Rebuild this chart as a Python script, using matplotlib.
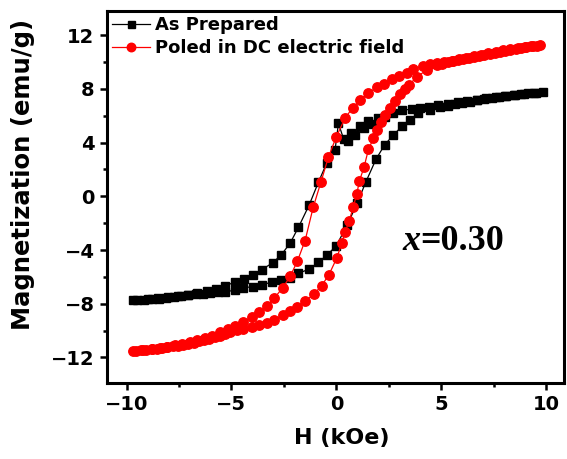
import matplotlib
matplotlib.use("Agg")
import matplotlib.pyplot as plt
from matplotlib.ticker import MultipleLocator

# ---- data ----
# As Prepared: descending branch (+H -> -H) then ascending (-H -> +H)
bk_desc_H = [9.85, 9.4, 8.95, 8.5, 8.05, 7.6, 7.15, 6.7, 6.25, 5.8, 5.3, 4.85, 4.4, 3.99, 3.6, 3.12,
             2.72, 2.32, 2.0, 1.75, 1.53, 1.32, 1.13, 0.89, 0.7, 0.55, 0.35, 0.1, -0.06, -0.46, -0.86,
             -1.29, -1.81, -2.2, -2.62, -3.04, -3.56, -3.99, -4.4, -4.83, -5.31, -5.74, -6.18, -6.63,
             -7.06, -7.53, -8.01, -8.49, -8.97, -9.68]
bk_desc_M = [7.79, 7.7, 7.64, 7.55, 7.47, 7.38, 7.3, 7.2, 7.1, 7.0, 6.87, 6.77, 6.68, 6.6, 6.5, 6.4,
             6.18, 5.93, 5.85, 5.35, 5.6, 5.06, 5.25, 4.6, 4.75, 4.1, 4.25, 5.44, 3.46, 2.47, 1.03,
             -0.63, -2.32, -3.48, -4.35, -4.96, -5.46, -5.87, -6.17, -6.4, -6.65, -6.9, -7.07, -7.19,
             -7.32, -7.44, -7.52, -7.58, -7.64, -7.69]
bk_asc_H = [-9.5, -9.15, -8.8, -8.45, -8.1, -7.75, -7.4, -7.05, -6.7, -6.35, -6.0, -5.65, -5.31,
            -4.83, -4.43, -3.99, -3.56, -3.06, -2.65, -2.2, -1.81, -1.29, -0.86, -0.43, 0.0, 0.52,
            1.0, 1.4, 1.89, 2.3, 2.72, 3.12, 3.51, 3.91, 4.47, 4.95, 5.3, 5.65, 6.0, 6.35, 6.7, 7.05,
            7.4, 7.75, 8.1, 8.45, 8.8, 9.15, 9.5]
bk_asc_M = [-7.73, -7.69, -7.65, -7.61, -7.56, -7.5, -7.44, -7.37, -7.3, -7.24, -7.18, -7.13, -7.1,
            -7.0, -6.82, -6.72, -6.57, -6.4, -6.23, -6.05, -5.74, -5.41, -4.92, -4.35, -3.68, -2.12,
            -0.5, 1.05, 2.76, 3.83, 4.57, 5.2, 5.7, 6.18, 6.43, 6.63, 6.75, 6.85, 6.95, 7.05, 7.15,
            7.23, 7.32, 7.4, 7.48, 7.55, 7.61, 7.67, 7.72]

# Poled in DC electric field
rd_desc_H = [9.7, 9.35, 9.0, 8.65, 8.3, 7.95, 7.6, 7.25, 6.9, 6.55, 6.2, 5.85, 5.5, 5.15, 4.8, 4.45,
             4.15, 3.67, 3.36, 3.0, 2.64, 2.27, 1.93, 1.53, 1.13, 0.78, 0.41, -0.01, -0.38, -0.74,
             -1.1, -1.49, -1.86, -2.2, -2.56, -2.97, -3.32, -3.67, -4.03, -4.47, -4.83, -5.15, -5.55,
             -5.94, -6.26, -6.63, -6.98, -7.37, -7.69, -8.09, -8.41, -8.8, -9.2, -9.68]
rd_desc_M = [11.27, 11.22, 11.15, 11.06, 10.96, 10.87, 10.77, 10.66, 10.55, 10.44, 10.32, 10.19,
             10.07, 9.97, 9.9, 9.83, 9.72, 9.45, 9.2, 8.95, 8.7, 8.4, 8.11, 7.71, 7.17, 6.6, 5.81,
             4.4, 2.91, 1.03, -0.8, -3.3, -4.84, -5.96, -6.82, -7.6, -8.15, -8.63, -8.98, -9.38,
             -9.62, -9.87, -10.1, -10.38, -10.53, -10.7, -10.86, -11.02, -11.1, -11.2, -11.28,
             -11.35, -11.41, -11.48]
rd_asc_H = [-9.55, -9.3, -9.05, -8.8, -8.55, -8.3, -8.05, -7.8, -7.55, -7.3, -7.05, -6.8, -6.55,
            -6.3, -6.05, -5.8, -5.55, -5.3, -5.05, -4.75, -4.43, -4.03, -3.67, -3.32, -2.97, -2.56,
            -2.2, -1.86, -1.49, -1.06, -0.7, -0.35, 0.02, 0.26, 0.41, 0.62, 0.81, 0.97, 1.1, 1.32,
            1.53, 1.77, 1.93, 2.12, 2.32, 2.56, 2.8, 3.04, 3.28, 3.48, 3.83, 4.31, 4.79, 5.05, 5.3,
            5.55, 5.8, 6.05, 6.3, 6.55, 6.8, 7.05, 7.3, 7.55, 7.8, 8.05, 8.3, 8.55, 8.8, 9.05, 9.3,
            9.55]
rd_asc_M = [-11.5, -11.46, -11.42, -11.38, -11.34, -11.3, -11.24, -11.18, -11.12, -11.06, -10.98,
            -10.9, -10.8, -10.7, -10.6, -10.5, -10.37, -10.24, -10.12, -9.98, -9.86, -9.75, -9.61,
            -9.42, -9.18, -8.86, -8.56, -8.21, -7.8, -7.27, -6.65, -5.83, -4.6, -3.48, -2.69, -1.8,
            -0.76, 0.15, 1.15, 2.17, 3.5, 4.32, 4.94, 5.56, 6.05, 6.6, 7.1, 7.65, 8.0, 8.3, 8.9, 9.4,
            9.77, 9.88, 9.97, 10.04, 10.12, 10.21, 10.3, 10.39, 10.47, 10.55, 10.63, 10.7, 10.78,
            10.85, 10.92, 10.98, 11.04, 11.1, 11.16, 11.22]

series_labels = ["As Prepared", "Poled in DC electric field"]
x_ticks = [-10, -5, 0, 5, 10]
y_ticks = [-12, -8, -4, 0, 4, 8, 12]

# ---- figure ----
fig = plt.figure(figsize=(5.67, 4.59), dpi=100)
ax = fig.add_axes([107/567, 1-383/459, (564-107)/567, (383-11)/459])

sans = "DejaVu Sans"
ax.plot(bk_desc_H + bk_asc_H, bk_desc_M + bk_asc_M, color="black", lw=0.9,
        marker="s", ms=5.6, mec="black", mfc="black", label=series_labels[0])
ax.plot(rd_desc_H + rd_asc_H, rd_desc_M + rd_asc_M, color="red", lw=0.9,
        marker="o", ms=6.8, mec="red", mfc="red", label=series_labels[1])

ax.set_xlim(-10.93, 10.85)
ax.set_ylim(-13.9, 13.8)
ax.set_xticks(x_ticks)
ax.set_yticks(y_ticks)
ax.xaxis.set_minor_locator(MultipleLocator(2.5))
ax.yaxis.set_minor_locator(MultipleLocator(2))
ax.tick_params(which="major", direction="out", length=5, width=1.8, pad=4)
ax.tick_params(which="minor", direction="out", length=3, width=1.8)
for lab in ax.get_xticklabels() + ax.get_yticklabels():
    lab.set_fontfamily(sans)
    lab.set_fontweight("bold")
    lab.set_fontsize(14)
for s in ax.spines.values():
    s.set_linewidth(2.2)

ax.set_xlabel("H (kOe)", family=sans, weight="bold", fontsize=16)
ax.set_ylabel("Magnetization (emu/g)", family=sans, weight="bold", fontsize=17.5)
ax.xaxis.set_label_coords(0.514, -0.122)
ax.yaxis.set_label_coords(-0.157, 0.56)

leg = ax.legend(loc="upper left", bbox_to_anchor=(0, 1), borderaxespad=0, borderpad=0.28,
                frameon=False, handlelength=2.1, handletextpad=0.3, labelspacing=0.3,
                prop={"family": sans, "weight": "bold", "size": 13}, markerscale=0.9)

t1 = ax.text(3.13, -3.97, "x", family="Liberation Serif", style="italic", weight="bold",
             fontsize=26, va="baseline", ha="left")
ax.annotate("=0.30", xy=(1, 0), xycoords=t1, family="Liberation Serif", weight="bold",
            fontsize=26, va="bottom", ha="left")

fig.savefig("out.png", dpi=100)
